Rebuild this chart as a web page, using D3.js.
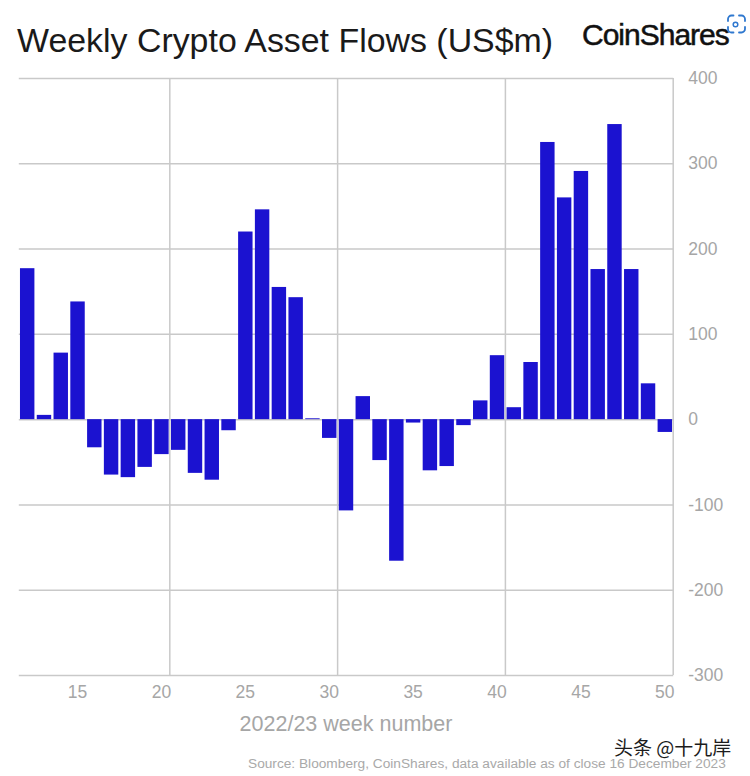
<!DOCTYPE html>
<html>
<head>
<meta charset="utf-8">
<script src="https://cdn.jsdelivr.net/npm/d3@7"></script>
<style>
  html, body { margin: 0; padding: 0; background: #fff; }
  text { font-family: "Liberation Sans", Arial, sans-serif; }
  .grid line { stroke: #c9c9c9; stroke-width: 1.5; }
  .grid .domain { display: none; }
  .tick-label text { fill: #a6a6a6; font-size: 17.5px; }
  .tick-label line, .tick-label .domain { display: none; }
</style>
</head>
<body>
<div id="chart"></div>
<script>
'use strict';

var weeks = [12, 13, 14, 15, 16, 17, 18, 19, 20, 21, 22, 23, 24, 25, 26, 27, 28, 29, 30,
             31, 32, 33, 34, 35, 36, 37, 38, 39, 40, 41, 42, 43, 44, 45, 46, 47, 48, 49, 50];
var flows = [177, 5, 78, 138, -33, -65, -68, -56, -41, -36, -63, -71, -13, 220, 246, 155, 143, 1, -22,
             -107, 27, -48, -166, -4, -60, -55, -7, 22, 75, 14, 67, 325, 260, 291, 176, 346, 176, 42, -15];
var weekTicks = [15, 20, 25, 30, 35, 40, 45, 50];
var gridWeeks = [20, 30, 40, 50];
var flowTicks = [-300, -200, -100, 0, 100, 200, 300, 400];

var titleText = 'Weekly Crypto Asset Flows (US$m)';
var xLabel = '2022/23 week number';
var sourceText = 'Source: Bloomberg, CoinShares, data available as of close 16 December 2023';

var width = 750, height = 776;
var margins = {left: 18.8, right: 76.8, top: 78, bottom: 101};
var cw = width - margins.left - margins.right;
var ch = height - margins.top - margins.bottom;

var svg = d3.select('#chart').append('svg')
    .attr('width', width)
    .attr('height', height)
    .style('display', 'block');

var chart = svg.append('g')
    .attr('transform', 'translate(' + margins.left + ',' + margins.top + ')');

var xScale = d3.scaleBand().domain(weeks).range([0, cw]).paddingInner(0.14).paddingOuter(0.07);
var yScale = d3.scaleLinear().domain([-300, 400]).range([ch, 0]);

// horizontal grid, it runs from the plot edge to edge
chart.append('g')
    .attr('class', 'grid')
    .call(d3.axisLeft(yScale).tickValues(flowTicks).tickSize(-cw).tickFormat(''));

// vertical grid sits on the right edge of every tenth week
var step = xScale.step();
chart.append('g')
    .attr('class', 'grid')
    .selectAll('line')
    .data(gridWeeks)
    .enter().append('line')
    .attr('x1', function(d) { return xScale(d) + xScale.bandwidth() / 2 + step / 2; })
    .attr('x2', function(d) { return xScale(d) + xScale.bandwidth() / 2 + step / 2; })
    .attr('y1', 0)
    .attr('y2', ch);

chart.selectAll('.bar')
    .data(weeks)
    .enter().append('rect')
    .attr('class', 'bar')
    .attr('x', function(d) { return xScale(d); })
    .attr('width', xScale.bandwidth())
    .attr('y', function(d, i) { return yScale(Math.max(flows[i], 0)); })
    .attr('height', function(d, i) { return Math.abs(yScale(flows[i]) - yScale(0)); })
    .attr('fill', '#1b12d0');

chart.append('g')
    .attr('class', 'tick-label')
    .attr('transform', 'translate(0,' + ch + ')')
    .call(d3.axisBottom(xScale).tickValues(weekTicks).tickSize(0).tickPadding(11));

chart.append('g')
    .attr('class', 'tick-label')
    .attr('transform', 'translate(' + cw + ',0)')
    .call(d3.axisRight(yScale).tickValues(flowTicks).tickSize(0).tickPadding(15)
        .tickFormat(function(d) { return String(d); }));

svg.append('text')
    .attr('x', 17)
    .attr('y', 52)
    .attr('fill', '#1a1a1a')
    .style('font-size', '33.9px')
    .text(titleText);

svg.append('text')
    .attr('x', 346)
    .attr('y', 731)
    .attr('text-anchor', 'middle')
    .attr('fill', '#a6a6a6')
    .style('font-size', '21.5px')
    .text(xLabel);

svg.append('text')
    .attr('x', 248)
    .attr('y', 768)
    .attr('fill', '#a9a9a9')
    .style('font-size', '13.7px')
    .text(sourceText);

// logo
svg.append('text')
    .attr('x', 582)
    .attr('y', 45)
    .attr('fill', '#111')
    .attr('stroke', '#111')
    .attr('stroke-width', 0.5)
    .style('font-size', '30px')
    .style('letter-spacing', '-1px')
    .text('CoinShares');

// scan button in the corner of the screenshot
var scan = svg.append('g').attr('fill', 'none').attr('stroke', '#2f78cf').attr('stroke-width', 1.8)
    .attr('stroke-linecap', 'round');
[
    'M728 21v-2a3.5 3.5 0 0 1 3.5-3.5h2',
    'M739 15.500h2.500a3.500 3.500 0 0 1 3.500 3.500v2',
    'M745 27v2a3.500 3.500 0 0 1-3.500 3.500h-2.500',
    'M733.500 32.500h-2a3.500 3.500 0 0 1-3.500-3.500v-2'
].forEach(function(d) { scan.append('path').attr('d', d); });
scan.append('circle').attr('cx', 735.500).attr('cy', 24.500).attr('r', 2.300).attr('stroke-width', 1.500);

// watermark over the source line
svg.append('text')
    .attr('x', 614)
    .attr('y', 755)
    .attr('fill', '#1c1c1c')
    .style('font-family', '"Noto Sans CJK SC"')
    .style('font-size', '19px')
    .text('头条 @十九岸');
</script>
</body>
</html>
